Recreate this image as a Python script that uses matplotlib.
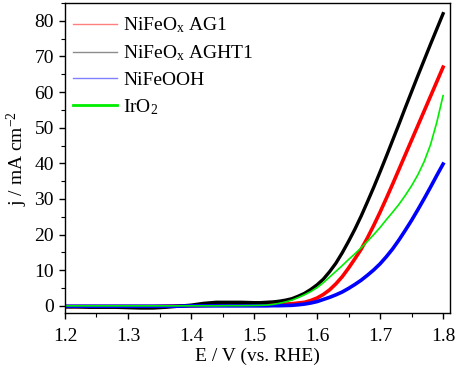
import matplotlib
matplotlib.use('Agg')
import matplotlib.pyplot as plt
from matplotlib.lines import Line2D
from matplotlib.ticker import MultipleLocator

plt.rcParams['font.family'] = ['Liberation Serif', 'DejaVu Serif']
plt.rcParams['mathtext.fontset'] = 'custom'
plt.rcParams['mathtext.rm'] = 'Liberation Serif'
plt.rcParams['mathtext.it'] = 'Liberation Serif:italic'

# Potential (V vs. RHE)
potential = [1.20, 1.22, 1.24, 1.26, 1.28, 1.30, 1.32, 1.34, 1.36, 1.38,
             1.40, 1.42, 1.44, 1.46, 1.48,
             1.50, 1.51, 1.52, 1.53, 1.54, 1.55, 1.56, 1.57, 1.58, 1.59,
             1.60, 1.61, 1.62, 1.63, 1.64, 1.65, 1.66, 1.67, 1.68, 1.69,
             1.70, 1.71, 1.72, 1.73, 1.74, 1.75, 1.76, 1.77, 1.78, 1.79, 1.80]

# current density (mA cm-2)
j_ag1 = [-0.2, -0.2, -0.2, -0.2, -0.2, -0.2, -0.2, -0.2, -0.1, 0.0,
         0.0, 0.1, 0.2, 0.2, 0.3,
         0.3, 0.3, 0.3, 0.35, 0.4, 0.5, 0.6, 0.8, 1.0, 1.5,
         2.2, 3.2, 4.5, 6.2, 8.2, 10.6, 13.2, 15.9, 19.1, 22.6,
         26.3, 30.2, 34.2, 38.3, 42.4, 46.5, 50.6, 54.7, 58.8, 62.9, 67.0]

j_aght1 = [-0.3, -0.3, -0.4, -0.4, -0.4, -0.5, -0.6, -0.6, -0.4, -0.1,
           0.2, 0.7, 1.0, 1.0, 1.0,
           0.9, 0.9, 1.0, 1.1, 1.3, 1.6, 2.0, 2.7, 3.5, 4.6,
           5.9, 7.5, 9.6, 12.0, 14.9, 18.1, 21.5, 25.2, 29.2, 33.3,
           37.6, 42.0, 46.5, 51.0, 55.6, 60.1, 64.6, 69.0, 73.4, 77.7, 82.0]

j_nifeooh = [-0.1, -0.1, -0.1, -0.1, -0.1, -0.1, -0.1, -0.1, -0.1, -0.1,
             0.0, 0.0, 0.0, 0.0, 0.0,
             0.0, 0.0, 0.0, 0.05, 0.05, 0.1, 0.15, 0.3, 0.5, 0.8,
             1.2, 1.8, 2.4, 3.1, 3.9, 4.9, 6.0, 7.2, 8.6, 10.1,
             11.8, 13.8, 16.0, 18.5, 21.2, 24.0, 27.0, 30.1, 33.3, 36.6, 39.8]

j_iro2 = [0.0, 0.0, 0.0, 0.0, 0.0, 0.0, 0.0, 0.0, 0.0, 0.0,
          0.0, 0.0, 0.0, 0.05, 0.05,
          0.1, 0.15, 0.2, 0.4, 0.7, 1.1, 1.6, 2.3, 3.1, 4.0,
          5.1, 6.5, 8.1, 9.7, 11.3, 13.0, 14.6, 16.3, 18.1, 20.0,
          22.0, 24.2, 26.3, 28.5, 31.0, 33.7, 36.8, 40.5, 45.2, 51.5, 59.0]

fig = plt.figure(figsize=(4.57, 3.68), dpi=100)
ax = fig.add_axes([0.1422, 0.1495, 0.8425, 0.8423])

ax.plot(potential, j_ag1, color='#ff0000', lw=2.6)
ax.plot(potential, j_aght1, color='black', lw=2.4)
ax.plot(potential, j_nifeooh, color='#0000ff', lw=2.6)
ax.plot(potential, j_iro2, color='#00ee00', lw=1.2)

ax.set_xlim(1.2, 1.811)
ax.set_ylim(-2, 85)
ax.xaxis.set_major_locator(MultipleLocator(0.1))
ax.xaxis.set_minor_locator(MultipleLocator(0.05))
ax.yaxis.set_major_locator(MultipleLocator(10))
ax.yaxis.set_minor_locator(MultipleLocator(5))
ax.set_xticks([1.2, 1.3, 1.4, 1.5, 1.6, 1.7, 1.8])
ax.set_xticklabels(['1.2', '1.3', '1.4', '1.5', '1.6', '1.7', '1.8'])
ax.tick_params(which='major', direction='out', length=4, width=1, labelsize=14)
ax.tick_params(which='minor', direction='out', length=2.8, width=0.8)
ax.tick_params(axis='x', which='major', pad=6.5)
ax.tick_params(axis='y', which='major', pad=4)
for s in ax.spines.values():
    s.set_linewidth(1)

ax.set_xlabel('E / V (vs. RHE)', fontsize=14, labelpad=2)
ax.set_ylabel('j / mA cm$^{-2}$', fontsize=14, labelpad=3)

handles = [
    Line2D([], [], color='#ff0000', lw=1, alpha=0.5),
    Line2D([], [], color='black', lw=1, alpha=0.45),
    Line2D([], [], color='#0000ff', lw=1, alpha=0.5),
    Line2D([], [], color='#00ee00', lw=2),
]
labels = ['NiFeO$_\\mathrm{x}$ AG1', 'NiFeO$_\\mathrm{x}$ AGHT1', 'NiFeOOH', 'IrO$_2$']
ax.legend(handles, labels, loc='upper left', frameon=False, fontsize=14,
          handlelength=2.3, handletextpad=0.3, labelspacing=0.42,
          borderaxespad=0.1, borderpad=0.3, bbox_to_anchor=(0.0, 0.984))

fig.savefig('out.png', dpi=100)
